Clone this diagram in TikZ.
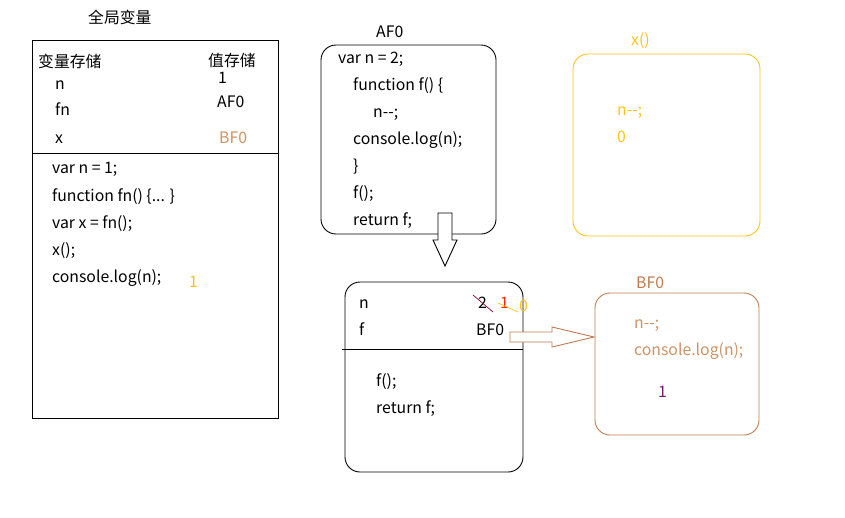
\documentclass[tikz,border=0pt]{standalone}
\usepackage{fontspec}
\setmainfont{Noto Sans CJK SC}
\definecolor{gold}{RGB}{250,196,20}
\definecolor{brn}{RGB}{192,124,80}
\definecolor{lbrn}{RGB}{206,146,100}
\definecolor{dred}{RGB}{128,0,32}
\definecolor{purp}{RGB}{112,32,112}
\begin{document}
\begin{tikzpicture}[x=1pt,y=-1pt,
  txt/.style={anchor=west,inner sep=0pt,font=\fontsize{15.8}{18}\selectfont,text height=12pt,text depth=0.5pt},
  box/.style={draw,line width=0.9pt},
  rbox/.style={draw,line width=0.9pt,rounded corners=15pt}]
\useasboundingbox (0,0) rectangle (845,517);
% global
\node[txt] (tg) at (88,18) {全局变量};
\draw[box] (32,40) rectangle (278,418);
\coordinate (gl) at (32,153); \coordinate (gr) at (278,153);
\draw[line width=0.9pt] (gl) -- (gr);
\node[txt] (h1) at (38,62) {变量存储};
\node[txt] (h2) at (208,61) {值存储};
\node[txt] (vn) at (55,84) {n};
\node[txt] (v1) at (218,78) {1};
\node[txt] (vfn) at (55,110) {fn};
\node[txt] (vaf) at (217,102) {AF0};
\node[txt] (vx) at (55,138) {x};
\node[txt,text=lbrn] (vbf) at (219,138) {BF0};
\node[txt] (c1) at (52,168) {var n = 1;};
\node[txt] (c2) at (52,196) {function fn() \{... \}};
\node[txt] (c3) at (52,223) {var x = fn();};
\node[txt] (c4) at (52,250) {x();};
\node[txt] (c5) at (52,277) {console.log(n);};
\node[txt,text=gold] (o1) at (189,282) {1};
% AF0
\node[txt] (af) at (376,32) {AF0};
\draw[rbox] (321,45) rectangle (496,234);
\node[txt] (a1) at (338,58) {var n = 2;};
\node[txt] (a2) at (353,85) {function f() \{};
\node[txt] (a3) at (373,112) {n-{}-;};
\node[txt] (a4) at (353,139) {console.log(n);};
\node[txt] (a5) at (353,166) {\}};
\node[txt] (a6) at (353,193) {f();};
\node[txt] (a7) at (353,220) {return f;};
% down arrow
\draw[fill=white,line width=0.9pt] (438,213) -- (452,213) -- (452,240) -- (457,240) -- (445,266) -- (433,240) -- (438,240) -- cycle;
% closure box
\draw[rbox] (345,282) rectangle (523,472);
\coordinate (ml) at (342,349); \coordinate (mr) at (523,349);
\draw[line width=0.9pt] (ml) -- (mr);
\node[txt] (bn) at (359,303) {n};
\node[txt] (bf) at (359,330) {f};
\node[txt] (b2) at (478,303) {2};
\node[txt,text=red!70!orange] (b1) at (500,303) {1};
\node[txt,text=gold] (b0) at (519,306) {0};
\draw[dred,line width=0.7pt] (473,295) -- (493,312);
\draw[gold,line width=0.7pt] (498,303) -- (518,312);
\node[txt] (bbf) at (476,330) {BF0};
\node[txt] (b3) at (376,381) {f();};
\node[txt] (b4) at (376,408) {return f;};
% right arrow
\draw[brn,fill=white,line width=0.9pt] (510,332) -- (552,332) -- (552,327) -- (594,337) -- (552,347) -- (552,342) -- (510,342) -- cycle;
% BF0 box
\node[txt,text=brn] (bft) at (636,283) {BF0};
\draw[rbox,draw=brn] (595,293) rectangle (759,435);
\node[txt,text=lbrn] (r1) at (634,323) {n-{}-;};
\node[txt,text=lbrn] (r2) at (634,350) {console.log(n);};
\node[txt,text=purp] (r3) at (658,392) {1};
% x() box
\node[txt,text=gold] (xt) at (631,40) {x()};
\draw[rbox,draw=gold] (573,54) rectangle (760,236);
\node[txt,text=gold] (x1) at (617,110) {n-{}-;};
\node[txt,text=gold] (x2) at (617,137) {0};
\end{tikzpicture}
\end{document}
